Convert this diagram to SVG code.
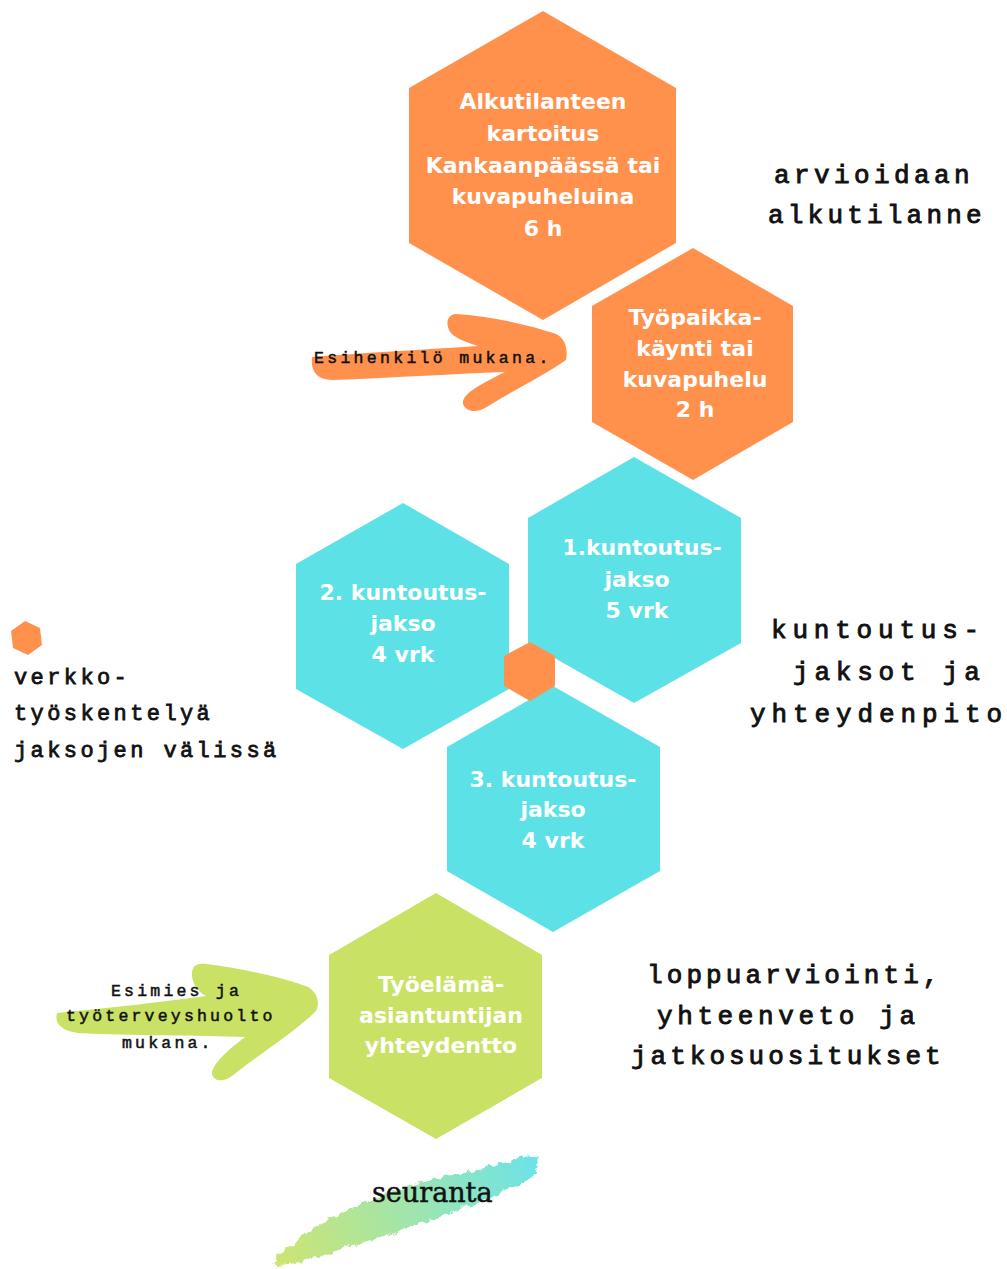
<svg xmlns="http://www.w3.org/2000/svg" width="1007" height="1269" viewBox="0 0 1007 1269">
<defs>
<linearGradient id="brushGrad" gradientUnits="userSpaceOnUse" x1="280" y1="1262" x2="537" y2="1160">
<stop offset="0" stop-color="#C9E265"/>
<stop offset="0.5" stop-color="#96E3A3"/>
<stop offset="1" stop-color="#5CE1E6"/>
</linearGradient>
<filter id="rough" x="-10%" y="-30%" width="120%" height="160%">
<feTurbulence type="fractalNoise" baseFrequency="0.12" numOctaves="3" seed="5" result="n"/>
<feDisplacementMap in="SourceGraphic" in2="n" scale="9" xChannelSelector="R" yChannelSelector="G"/>
</filter>
</defs>
<style>
.orange{fill:#FF914D}
.teal{fill:#5CE1E6}
.green{fill:#C9E265}
.htxt{font-family:"DejaVu Sans",sans-serif;font-weight:bold;font-size:22px;fill:#FFFFFF;text-anchor:middle}
.mono{font-family:"Liberation Mono","Courier New",monospace;font-size:26px;fill:#111111;stroke:#111111;stroke-width:0.9px}
.monoS{font-family:"Liberation Mono","Courier New",monospace;font-size:22px;fill:#111111;stroke:#111111;stroke-width:0.8px;letter-spacing:3.4px}
.monoXS{font-family:"Liberation Mono","Courier New",monospace;font-size:16.5px;fill:#111111;stroke:#111111;stroke-width:0.5px}
.serif{font-family:"DejaVu Serif",serif;font-size:27px;fill:#111111;stroke:#111111;stroke-width:0.5px}
</style>
<rect width="1007" height="1269" fill="#FFFFFF"/>

<g id="connectors">
<path id="arrow-esihenkilo" class="orange" d="M312,357 C360,353 420,350 478,346 C465,342 452,337 449,330 C446,322 447,316 455,314 C490,316 530,325 556,334 C566,339 568,350 566,360 C545,375 510,392 485,408 C476,413 466,412 463,404 C462,396 472,388 505,372 C450,374 390,378 332,380 C318,380 310,372 312,357 Z"/>
<path id="arrow-esimies" class="green" d="M57,1013 C110,1008 160,1002 206,996 C197,991 191,982 192,972 C193,965 198,963 207,964 C245,969 285,978 308,987 C318,993 320,1003 316,1011 C295,1032 262,1052 232,1076 C224,1082 214,1082 212,1074 C212,1064 228,1050 245,1037 C200,1035 130,1036 78,1033 C62,1031 54,1024 57,1013 Z"/>
</g>

<g id="node-alkutilanne">
<polygon class="orange" points="543,11 676,88 676,243 543,320 409,243 409,88"/>
<text class="htxt" x="543" y="109">Alkutilanteen</text>
<text class="htxt" x="543" y="141">kartoitus</text>
<text class="htxt" x="543" y="173">Kankaanpäässä tai</text>
<text class="htxt" x="543" y="204">kuvapuheluina</text>
<text class="htxt" x="543" y="236">6 h</text>
</g>

<g id="node-tyopaikka">
<polygon class="orange" points="693,248 793,306 793,422 693,480 592,422 592,306"/>
<text class="htxt" x="695" y="325">Työpaikka-</text>
<text class="htxt" x="695" y="356">käynti tai</text>
<text class="htxt" x="695" y="387">kuvapuhelu</text>
<text class="htxt" x="695" y="417">2 h</text>
</g>

<g id="node-jakso1">
<polygon class="teal" points="634,457 741,518 741,643 634,703 528,643 528,518"/>
<text class="htxt" x="642" y="555">1.kuntoutus-</text>
<text class="htxt" x="637" y="587">jakso</text>
<text class="htxt" x="637" y="618">5 vrk</text>
</g>

<g id="node-jakso2">
<polygon class="teal" points="403,503 509,564 509,689 403,749 296,689 296,564"/>
<text class="htxt" x="403" y="600">2. kuntoutus-</text>
<text class="htxt" x="403" y="631">jakso</text>
<text class="htxt" x="403" y="662">4 vrk</text>
</g>

<g id="node-jakso3">
<polygon class="teal" points="553,686 660,747 660,871 553,932 447,871 447,747"/>
<text class="htxt" x="553" y="787">3. kuntoutus-</text>
<text class="htxt" x="553" y="817">jakso</text>
<text class="htxt" x="553" y="848">4 vrk</text>
</g>

<g id="node-small-hex">
<polygon class="orange" points="530,642 555,656 555,686 530,701 504,686 504,656"/>
</g>

<g id="node-tyoelama">
<polygon class="green" points="436,893 542,955 542,1078 436,1139 329,1078 329,955"/>
<text class="htxt" x="441" y="992">Työelämä-</text>
<text class="htxt" x="441" y="1023">asiantuntijan</text>
<text class="htxt" x="441" y="1053">yhteydentto</text>
</g>

<g id="label-arvioidaan">
<text class="mono" style="letter-spacing:4.4px" x="774" y="183">arvioidaan</text>
<text class="mono" style="letter-spacing:4.2px" x="768" y="223">alkutilanne</text>
</g>

<g id="label-kuntoutus">
<text class="mono" style="letter-spacing:5.8px" x="771" y="638">kuntoutus-</text>
<text class="mono" style="letter-spacing:5.8px" x="793" y="680">jaksot ja</text>
<text class="mono" style="letter-spacing:5.9px" x="750" y="722">yhteydenpito</text>
</g>

<g id="label-loppu">
<text class="mono" style="letter-spacing:4.1px" x="647" y="983">loppuarviointi,</text>
<text class="mono" style="letter-spacing:4.6px" x="657" y="1024">yhteenveto ja</text>
<text class="mono" style="letter-spacing:4.0px" x="631" y="1064">jatkosuositukset</text>
</g>

<g id="label-verkko">
<polygon class="orange" points="25,621 40,628 42,645 28,655 13,648 11,631"/>
<text class="monoS" x="14" y="684">verkko-</text>
<text class="monoS" x="14" y="720">työskentelyä</text>
<text class="monoS" x="14" y="757">jaksojen välissä</text>
</g>

<g id="label-esihenkilo">
<text class="monoXS" style="letter-spacing:3.3px" x="314" y="363">Esihenkilö mukana.</text>
</g>

<g id="label-esimies">
<text class="monoXS" style="letter-spacing:3.2px" x="111" y="996">Esimies ja</text>
<text class="monoXS" style="letter-spacing:3.2px" x="66" y="1021">työterveyshuolto</text>
<text class="monoXS" style="letter-spacing:3.2px" x="122" y="1048">mukana.</text>
</g>

<g id="node-seuranta">
<path fill="url(#brushGrad)" filter="url(#rough)" opacity="0.9" d="M537,1155 C520,1158 505,1161 490,1166 C470,1172 448,1175 427,1180 C390,1192 355,1205 330,1218 C310,1230 292,1244 272,1262 C278,1267 288,1267 300,1262 C315,1258 325,1254 338,1250 C370,1240 400,1232 430,1220 C460,1210 485,1200 505,1190 C520,1184 530,1180 535,1175 C538,1168 538,1161 537,1155 Z"/>
<text class="serif" x="372" y="1202">seuranta</text>
</g>
</svg>
